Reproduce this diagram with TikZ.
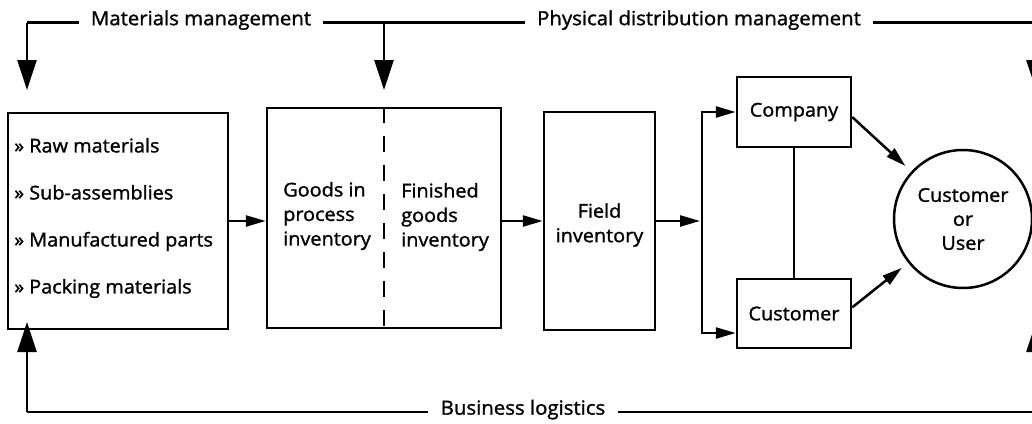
\documentclass[tikz,border=0pt]{standalone}
\usepackage{fontspec}
\setmainfont{Open Sans}[FakeBold=1.4, FakeStretch=1.045]
\usetikzlibrary{arrows.meta}
\begin{document}
\begin{tikzpicture}[x=1pt,y=-1pt,
  line width=2.5pt,
  box/.style={draw, line width=2.5pt, inner sep=0pt, font=\fontsize{19}{24}\selectfont},
  lbl/.style={anchor=mid, inner xsep=11pt, font=\fontsize{19.5}{23}\selectfont},
  txt/.style={font=\fontsize{19}{24.5}\selectfont, inner sep=0pt},
  bigarrow/.style={-{Triangle[length=30pt,width=19pt]}},
  smallarrow/.style={-{Triangle[length=20pt,width=11pt]}},
]
\useasboundingbox (0,0) rectangle (1032,423);
\clip (0,0) rectangle (1032,423);

% boxes
\node[box, minimum width=220pt, minimum height=216pt] (raw) at (118,221) {};
\node[box, minimum width=234pt, minimum height=220pt] (inv) at (384,218) {};
\node[box, minimum width=111pt, minimum height=218pt] (field) at (599.5,221) {};
\node[box, minimum width=114pt, minimum height=70pt] (company) at (794,112) {Company};
\node[box, minimum width=114pt, minimum height=69pt] (customer) at (794,313.5) {Customer};
\node[box, circle, minimum size=138pt, align=center] (user) at (963,219) {Customer\\or\\User};

% texts
\node[txt, anchor=west, align=left, font=\fontsize{19}{47}\selectfont] (list) at (13,218)
  {» Raw materials\\» Sub-assemblies\\» Manufactured parts\\» Packing materials};
\node[txt, anchor=west, align=left] (gip) at (282,216) {Goods in\\process\\inventory};
\node[txt, anchor=west, align=left] (fgi) at (400,217) {Finished\\goods\\inventory};
\node[txt, align=center] (fi) at (599.5,225) {Field\\inventory};

% top labels
\node[lbl] (mm) at (201,22.5) {Materials management};
\node[lbl] (pdm) at (699,22.5) {Physical distribution management};
\node[lbl] (bl) at (523,412) {Business logistics};

\coordinate (tl) at (27,22.5);
\coordinate (tm) at (384,22.5);
\coordinate (tr) at (1036,22.5);
\coordinate (bll) at (27,412);
\coordinate (brr) at (1036,412);
\coordinate (al) at (27,90);
\coordinate (am) at (384,90);
\coordinate (ar) at (1036,90);
\coordinate (bal) at (27,322);
\coordinate (bar) at (1036,322);

\draw (tl) -- (mm.mid west);
\draw (mm.mid east) -- (pdm.mid west);
\draw (pdm.mid east) -- (tr);
\draw[bigarrow] (tl) -- (al);
\draw[bigarrow] (tm) -- (am);
\draw[bigarrow] (tr) -- (ar);

\draw (bll) -- (bl.mid west);
\draw (bl.mid east) -- (brr);
\draw[bigarrow] (bll) -- (bal);
\draw[bigarrow] (brr) -- (bar);

% dashed divider
\coordinate (dend) at (384,333);
\draw[dash pattern=on 16pt off 13pt, line cap=butt] (inv.north) -- (dend);

% flow arrows
\draw[smallarrow] (raw.east) -- (raw.east -| inv.west);
\draw[smallarrow] (field.west -| inv.east) -- (field.west);
\coordinate (br) at (700,221);
\draw[smallarrow] (field.east) -- (br);
\coordinate (bt) at (702,112);
\coordinate (bb) at (702,333);
\draw[{Triangle[length=20pt,width=11pt]}-{Triangle[length=20pt,width=11pt]}]
  (company.west) -- (bt) -- (bb) -- (customer.west |- bb);
\draw (company.south) -- (customer.north);
\draw[smallarrow, shorten >=8pt] (company.-5) -- (user);
\draw[smallarrow, shorten >=8pt] (customer.6) -- (user);
\end{tikzpicture}
\end{document}
